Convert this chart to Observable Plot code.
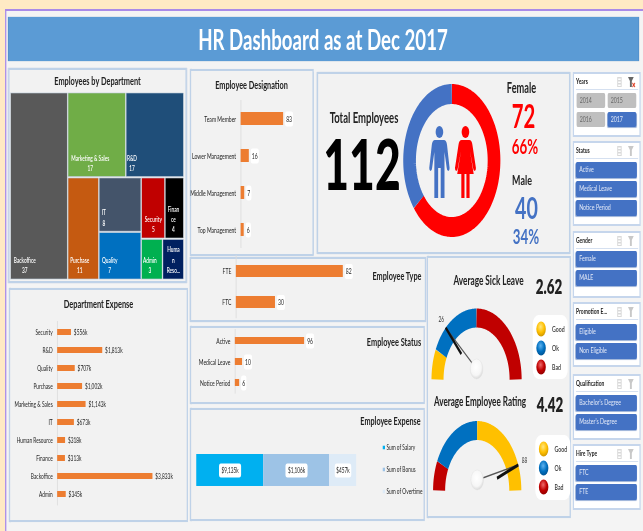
<!DOCTYPE html>
<html><head><meta charset="utf-8">
<script src="https://cdn.jsdelivr.net/npm/d3@7"></script>
<script src="https://cdn.jsdelivr.net/npm/@observablehq/plot@0.6"></script>
<style>
html,body{margin:0;padding:0;width:643px;height:531px;overflow:hidden;background:#ffeac4;font-family:Lato,sans-serif}
#wrap{position:absolute;left:0;top:0;width:643px;height:531px;overflow:hidden;filter:blur(.5px)}
#page{position:absolute;left:0;top:0;height:531px;transform-origin:0 0}
#page>*{position:absolute}
.panel{background:#f2f2f2;border:2px solid #bfd2e8;box-sizing:border-box;box-shadow:0 0 1px #8eaad0}
.t{white-space:nowrap;transform:translate(-50%,-50%);line-height:.72}
.btn{box-sizing:border-box;border-radius:2px;color:#e3e9f7;font-size:8.3px;line-height:15px;padding-left:5px;white-space:nowrap;background:#4472c4;box-shadow:0 1px 1px #9db3d9}
.btn.off{background:#bfbfbf;color:#666;box-shadow:none}
.slicer{background:#fff;border:2px solid #c6d6ec;box-sizing:border-box}
svg{overflow:visible}
</style></head><body>
<svg width="0" height="0" style="position:absolute"><defs>
<radialGradient id="gGood" cx=".45" cy=".35" r=".7"><stop offset="0" stop-color="#ffe680"/><stop offset=".55" stop-color="#ffc000"/><stop offset="1" stop-color="#c79000"/></radialGradient>
<radialGradient id="gOk" cx=".45" cy=".35" r=".7"><stop offset="0" stop-color="#5db2ef"/><stop offset=".55" stop-color="#0070c0"/><stop offset="1" stop-color="#004f8c"/></radialGradient>
<radialGradient id="gBad" cx=".45" cy=".35" r=".7"><stop offset="0" stop-color="#ef6a6a"/><stop offset=".55" stop-color="#c00000"/><stop offset="1" stop-color="#8c0000"/></radialGradient>
<radialGradient id="gKnob" cx=".45" cy=".4" r=".7"><stop offset="0" stop-color="#fff"/><stop offset=".6" stop-color="#f6f6f6"/><stop offset="1" stop-color="#c9c9c9"/></radialGradient>
</defs></svg>
<div id="wrap"><div id="page"></div></div>
<script>
// ---- data ----
const deptNames = ["Backoffice","Marketing & Sales","R&D","Purchase","IT","Quality","Security","Finance","Admin","Human Resource"];
const deptLabels = ["Backoffice","Marketing & Sales","R&D","Purchase","IT","Quality","Security","Finan\nce","Admin","Huma\nn\nReso..."];
const deptHeads = [37,17,17,11,8,7,5,4,3,3];
const deptColors = ["#595959","#70ad47","#1f4e79","#c55a11","#44546a","#0070c0","#c00000","#000000","#00b050","#002060"];
const desigNames = ["Team Member","Lower Management","Middle Management","Top Management"];
const desigValues = [83,16,7,6];
const expNames = ["Security","R&D","Quality","Purchase","Marketing & Sales","IT","Human Resource","Finance","Backoffice","Admin"];
const expValues = [556,1813,707,1002,1143,673,318,313,3833,345];
const typeNames = ["FTE","FTC"];
const typeValues = [82,30];
const statusNames = ["Active","Medical Leave","Notice Period"];
const statusValues = [96,10,6];
const stackNames = ["Sum of Salary","Sum of Bonus","Sum of Overtime"];
const stackLabels = ["$9,135k","$1,106k","$457k"];
const stackLengths = [67,66,27]; // bar lengths as drawn in the picture
const stackColors = ["#00b0f0","#9dc3e6","#deebf7"];
const genderValues = [72,40];
const genderColors = ["#ff0000","#4472c4"];
const gaugeKeys = ["Good","Ok","Bad"];
const gaugeGrad = ["url(#gGood)","url(#gOk)","url(#gBad)"];
const gaugeColors = {Good:"#ffc000",Ok:"#0070c0",Bad:"#c00000"};
const sickSegments = [["Good",25],["Ok",65],["Bad",90]];
const ratingSegments = [["Bad",25],["Ok",65],["Good",90]];
const sickNeedle = 26, ratingNeedle = 88;
const slicers = [
 {title:"Years",box:[573,72,641,137],top:93,items:["2014","2015","2016","2017"],grid:true},
 {title:"Status",box:[573,141,641,226],top:162,items:["Active","Medical Leave","Notice Period"]},
 {title:"Gender",box:[573,231,641,298],top:251,items:["Female","MALE"]},
 {title:"Promotion E...",box:[573,302,641,367],top:324,items:["Eligible","Non Eligible"]},
 {title:"Qualification",box:[573,374,641,440],top:395,items:["Bachelor's Degree","Master's Degree"]},
 {title:"Hire Type",box:[573,444,641,510],top:465,items:["FTC","FTE"]}
];

// ---- layout helpers: the whole picture is horizontally squeezed ----
const k = 0.635, X = px => px / k;
const page = document.getElementById("page");
page.style.width = X(643) + "px";
page.style.transform = `scaleX(${k})`;
function box(x1,y1,x2,y2,cls,css){const d=document.createElement("div");d.className=cls||"";
  d.style.cssText=`left:${X(x1)}px;top:${y1}px;width:${X(x2-x1)}px;height:${y2-y1}px;`+(css||"");page.append(d);return d;}
function t(text,cx,cy,size,opt={}){const d=document.createElement("div");d.className="t";d.textContent=text;
  d.style.cssText=`left:${X(cx)}px;top:${cy}px;font-size:${size}px;font-weight:${opt.w||700};color:${opt.c||"#222"};`+(opt.css||"");page.append(d);return d;}
function place(el,x,y){el.style.left=X(x)+"px";el.style.top=y+"px";el.style.background="transparent";page.append(el);return el;}
const roundBox=(w,h,r=3)=>({draw(c){const x=w/2,y=h/2;c.moveTo(-x+r,-y);c.lineTo(x-r,-y);c.quadraticCurveTo(x,-y,x,-y+r);c.lineTo(x,y-r);c.quadraticCurveTo(x,y,x-r,y);c.lineTo(-x+r,y);c.quadraticCurveTo(-x,y,-x,y-r);c.lineTo(-x,-y+r);c.quadraticCurveTo(-x,-y,-x+r,-y);c.closePath();}});
const boxW=s=>s.length*4.4+4;

// ---- backdrop ----
box(5,9,643,531,"","background:#f4f4f4;border-left:2px solid #a98be8;border-top:2px solid #a98be8;box-sizing:border-box;");
box(8,17,639,61,"","background:#5b9bd5;box-shadow:0 0 1px #3f78b0;");
t("HR Dashboard as at Dec 2017",323,39,29.4,{c:"#fff",w:700});

[[8,68,187,283],[190,69,314,256],[317,72,570,254],[190,257,426,322],[190,326,425,404],[190,408,425,521],[9,288,188,522],[427,256,571,518]]
  .forEach(b=>box(...b,"panel"));

t("Employees by Department",97.5,81,11.6);
t("Employee Designation",251.5,85,11.5);
t("Department Expense",98.5,303,11.7);
t("Employee Type",397,276,11.5);
t("Employee Status",394,342,11.6);
t("Employee Expense",390.5,421,11.4);

// ---- treemap ----
const tree = {children:[{i:0},{children:[{children:[{i:1},{i:2}]},{children:[{i:3},{children:[{i:4},{i:5}]},{children:[{children:[{i:6},{i:7}]},{children:[{i:8},{i:9}]}]}]}]}]};
const TW = X(172.5), TH = 186;
const leaves = d3.treemap().tile(d3.treemapSliceDice).size([TW,TH]).paddingInner(1.5).round(false)(
  d3.hierarchy(tree).sum(d=>d.i===undefined?0:deptHeads[d.i])).leaves().map(l=>{
   const lab=deptLabels[l.data.i], lines=lab.split("\n");
   return {name:deptNames[l.data.i],label:lines.length>2?lab:lab+"\n"+deptHeads[l.data.i],v:deptHeads[l.data.i],color:deptColors[l.data.i],
   x0:l.x0,x1:l.x1,y0:l.y0,y1:l.y1,mid:l.x0+3+d3.max(lines,s=>s.length)*1.85};});
place(Plot.plot({width:TW,height:TH,margin:0,x:{domain:[0,TW],range:[0,TW],axis:null},y:{domain:[0,TH],range:[0,TH],axis:null},color:{type:"identity"},
  marks:[
   Plot.rect(leaves,{x1:"x0",x2:"x1",y1:"y0",y2:"y1",fill:"color",stroke:"#b9c9d8",strokeWidth:.6}),
   Plot.text(leaves,{x:"mid",y:d=>d.y1-6,text:"label",fill:"#fff",fontSize:7.5,fontWeight:600,lineAnchor:"bottom",lineHeight:1.4,textAnchor:"middle"})
  ],style:{fontFamily:"Lato",background:"transparent"}}),11,93);

// ---- horizontal bars ----
function hbar({names,values,labels,left,axis,top,step,thick,maxV,maxLen,halo,font=8,fill="#ed7d31",labelDx=4,w}){
  const n=names.length, ml=X(axis-left), p=1-thick/step;
  const rows=names.map((name,i)=>({name,v:values[i],label:labels?labels[i]:String(values[i])}));
  const boxes=halo?[...d3.group(rows,d=>d.label.length)].map(([,g])=>{const bw=boxW(g[0].label);
     return Plot.dot(g,{x:"v",y:"name",dx:2.5+bw/2,fill:"#fff",symbol:roundBox(bw,15)});}):[];
  const valueText=halo?
     rows.map(d=>Plot.text([d],{x:"v",y:"name",text:"label",dx:2.5+boxW(d.label)/2,fontSize:font,fill:"#222"})):
     [Plot.text(rows,{x:"v",y:"name",text:"label",dx:labelDx,textAnchor:"start",fontSize:font,fill:"#222"})];
  return place(Plot.plot({width:X(w),height:n*step,marginLeft:ml,marginRight:0,marginTop:0,marginBottom:0,
    x:{domain:[0,maxV],range:[ml,ml+X(maxLen)],axis:null},
    y:{domain:names,type:"band",paddingInner:p,paddingOuter:p/2,tickSize:0,tickPadding:7.5,label:null},
    marks:[
      Plot.ruleX([0],{stroke:"#dcdcdc",strokeWidth:1}),
      Plot.barX(rows,{x:"v",y:"name",fill}),
      ...boxes,...valueText
    ],style:{fontFamily:"Lato",fontSize:font+"px",color:"#222",background:"transparent"}}),left,top);
}
hbar({names:desigNames,values:desigValues,left:191,axis:240.5,top:99.5,step:37,thick:13,maxV:83,maxLen:42.5,halo:true,w:120});
hbar({names:expNames,values:expValues,labels:expValues.map(d3.format("$,")).map(s=>s+"k"),left:10,axis:57,top:321,step:18.44,thick:6.5,maxV:3833,maxLen:95.3,font:7.6,w:175});
hbar({names:typeNames,values:typeValues,left:191,axis:235.7,top:255.3,step:31.6,thick:12,maxV:82,maxLen:107,halo:true,w:180});
hbar({names:statusNames,values:statusValues,left:191,axis:234.7,top:329.3,step:21.5,thick:7.5,maxV:96,maxLen:69.3,halo:true,w:120});

// ---- employee expense stack ----
const stackEnds=d3.cumsum(stackLengths);
const stackRows=stackNames.map((name,i)=>({name,len:stackLengths[i],mid:stackEnds[i]-stackLengths[i]/2,label:stackLabels[i],color:stackColors[i]}));
place(Plot.plot({width:X(165),height:32,margin:0,x:{domain:[0,165],range:[0,X(165)],axis:null},y:{axis:null},color:{type:"identity"},
  marks:[Plot.barX(stackRows,Plot.stackX({x:"len",fill:"color"})),
   ...stackRows.map(d=>Plot.dot([d],{x:"mid",frameAnchor:"middle",fill:"#fff",symbol:roundBox(boxW(d.label),14)})),
   Plot.text(stackRows,{x:"mid",frameAnchor:"middle",text:"label",fontSize:7.5,fill:"#222"})],
  style:{fontFamily:"Lato",background:"transparent"}}),196,454);
place(Plot.plot({width:X(42),height:66,margin:0,x:{axis:null},y:{domain:stackNames,type:"band",axis:null,padding:0},color:{type:"identity"},
  marks:[Plot.dot(stackRows,{frameAnchor:"left",y:"name",dx:2,r:2,symbol:"square",fill:"color"}),
   Plot.text(stackRows,{frameAnchor:"left",y:"name",text:"name",dx:6,textAnchor:"start",fontSize:7.6,fill:"#222"})],
  style:{fontFamily:"Lato",background:"transparent"}}),382,436);

// ---- gender donut ----
function arcPts(start,end,r,extra){const pts=[];const n=Math.ceil(Math.abs(end-start)/2);
  for(let i=0;i<=n;i++){const a=(start+(end-start)*i/n)*Math.PI/180;pts.push({x:r*Math.cos(a),y:r*Math.sin(a),...extra});}return pts;}
const tot=d3.sum(genderValues);
let run=90; // clockwise from the top
const donut=genderValues.flatMap((v,i)=>{const s=run,e=run-v/tot*360;run=e;return arcPts(s,e,66.5,{color:genderColors[i],z:i});});
place(Plot.plot({width:160,height:160,margin:0,x:{domain:[-80,80],range:[0,160],axis:null},y:{domain:[-80,80],range:[160,0],axis:null},color:{type:"identity"},
  marks:[Plot.line(donut,{x:"x",y:"y",z:"z",stroke:"color",strokeWidth:20,strokeLinecap:"butt"})],style:{background:"transparent"}}),451.7-80*k,80);
function person(cx,d,color){const s=document.createElementNS("http://www.w3.org/2000/svg","svg");
  s.setAttribute("width",60);s.setAttribute("height",90);s.setAttribute("viewBox","-30 -10 60 90");
  s.style.cssText=`left:${X(cx)-30}px;top:122px;`;
  s.innerHTML=`<circle cx="0" cy="0" r="6" fill="${color}"/><path fill="${color}" d="${d}"/>`;page.append(s);}
person(439.3,"M-7,8 H7 Q11,8 12,13 L16,36 Q16,39 14,39 Q12,39 11.5,36 L8,20 V66 H2 V36 H-2 V66 H-8 V20 L-11.5,36 Q-12,39 -14,39 Q-16,39 -16,36 L-12,13 Q-11,8 -7,8Z","#4472c4");
person(465.3,"M-6,8 H6 Q10,8 11,13 L16.5,36 Q16.5,39 14.5,39 Q12.5,39 12,36 L7,19 L13,42 H6.5 V66 H1.5 V42 H-1.5 V66 H-6.5 V42 H-13 L-7,19 L-12,36 Q-12.5,39 -14.5,39 Q-16.5,39 -16.5,36 L-11,13 Q-10,8 -6,8Z","#ff0000");

t("Total Employees",364,117,15);
t("112",362,163,70,{c:"#000",w:900});
t("Female",521.5,88,14.5);
t("72",523.5,116,32,{c:"#ff0000",w:700});
t("66%",525,146,21,{c:"#ff0000"});
t("Male",522,180,14);
t("40",526.5,207,31,{c:"#4472c4",w:700});
t("34%",526,236,21,{c:"#4472c4"});

// ---- gauges ----
function gauge(cx,base,R,band,segments,needle,legendX,legendY,legendH){
  const rc=R-band/2; let a=180;
  const pts=segments.flatMap(([key,deg],i)=>{const s=a,e=a-deg;a=e;return arcPts(s,e,rc,{color:gaugeColors[key],z:i});});
  const th=(180-needle/100*180)*Math.PI/180, tip=r=>({x:r*Math.cos(th),y:r*Math.sin(th)});
  const S=90, knob={x:0,y:10.5};
  const hi=tip(R-36),end=tip(R);
  place(Plot.plot({width:2*S,height:S+10,margin:0,x:{domain:[-S,S],range:[0,2*S],axis:null},y:{domain:[-10,S],range:[S+10,0],axis:null},color:{type:"identity"},
    marks:[
      Plot.line(pts,{x:"x",y:"y",z:"z",stroke:"color",strokeWidth:band,strokeLinecap:"butt"}),
      Plot.link([{a:knob,b:end}],{x1:d=>d.a.x,y1:d=>d.a.y,x2:d=>d.b.x,y2:d=>d.b.y,stroke:"#555",strokeWidth:1.6}),
      Plot.link([{a:hi,b:end}],{x1:d=>d.a.x,y1:d=>d.a.y,x2:d=>d.b.x,y2:d=>d.b.y,stroke:"#111",strokeWidth:3.2}),
      Plot.dot([knob],{x:"x",y:"y",r:10,fill:"url(#gKnob)",stroke:"#e2e2e2",strokeWidth:.5}),
      Plot.text([{...tip(R+10.5),needle}],{x:"x",y:"y",text:"needle",fontSize:7.5,fill:"#333"})
    ],style:{fontFamily:"Lato",background:"transparent"}}),cx-S*k,base-S);
  box(legendX,legendY,legendX+35,legendY+legendH,"","background:#fff;border-radius:9px;");
  const rows=gaugeKeys.map((key,i)=>({key,g:gaugeGrad[i]}));
  place(Plot.plot({width:X(35),height:57,margin:0,x:{axis:null},y:{domain:gaugeKeys,type:"band",axis:null,padding:0},color:{type:"identity"},
    marks:[Plot.dot(rows,{frameAnchor:"left",y:"key",dx:X(8),r:7.5,fill:"g"}),
      Plot.text(rows,{frameAnchor:"left",y:"key",text:"key",dx:X(19),textAnchor:"start",fontSize:8.2,fontWeight:600,fill:"#333"})],
    style:{fontFamily:"Lato",background:"transparent"}}),legendX,legendY+4);
}
gauge(476.5,379,71,19,sickSegments,sickNeedle,533,315,64);
gauge(476.7,490,69.5,19,ratingSegments,ratingNeedle,535,435,65);
t("Average Sick Leave",488.5,281,13);
t("2.62",549,286,21,{c:"#222",w:800});
t("Average Employee Rating",480,401.5,12.8);
t("4.42",550,404,21,{c:"#222",w:800});

// ---- slicers ----
slicers.forEach((sl,si)=>{
  const [x1,y1,x2,y2]=sl.box;
  box(x1,y1,x2,y2,"slicer");
  t(sl.title,x1+3,y1+10,7.8,{css:"transform:translateY(-50%);"});
  box(x1+3,y1+17,x2-3,y1+18,"","background:#d5e0f0;");
  const ic=document.createElementNS("http://www.w3.org/2000/svg","svg");
  ic.setAttribute("width",X(20));ic.setAttribute("height",10);
  ic.style.cssText=`left:${X(x1+44)}px;top:${y1+5}px;`;
  ic.innerHTML=`<rect x="0" y="0" width="7" height="10" fill="#d9d9d9"/><rect x="1.5" y="1.5" width="4" height="1.5" fill="#fff"/><rect x="1.5" y="4.5" width="4" height="1.5" fill="#fff"/><rect x="1.5" y="7.5" width="4" height="1.5" fill="#fff"/>
  <path d="M17,0 h9 l-3,4 v6 h-3 v-6z" fill="${si===0?"#666":"#c8c8c8"}"/>${si===0?'<path d="M24,6 l4,4 M28,6 l-4,4" stroke="#e0452c" stroke-width="1.4"/>':""}`;
  page.append(ic);
  sl.items.forEach((it,i)=>{
    const d=sl.grid?box(x1+3.5+(i%2)*31,sl.top+Math.floor(i/2)*19,x1+32+(i%2)*31,sl.top+15+Math.floor(i/2)*19,"btn"+(it==="2017"?"":" off")):
      box(x1+3,sl.top+i*19,x2-4,sl.top+i*19+16,"btn");
    d.textContent=it;
  });
});
</script></body></html>
